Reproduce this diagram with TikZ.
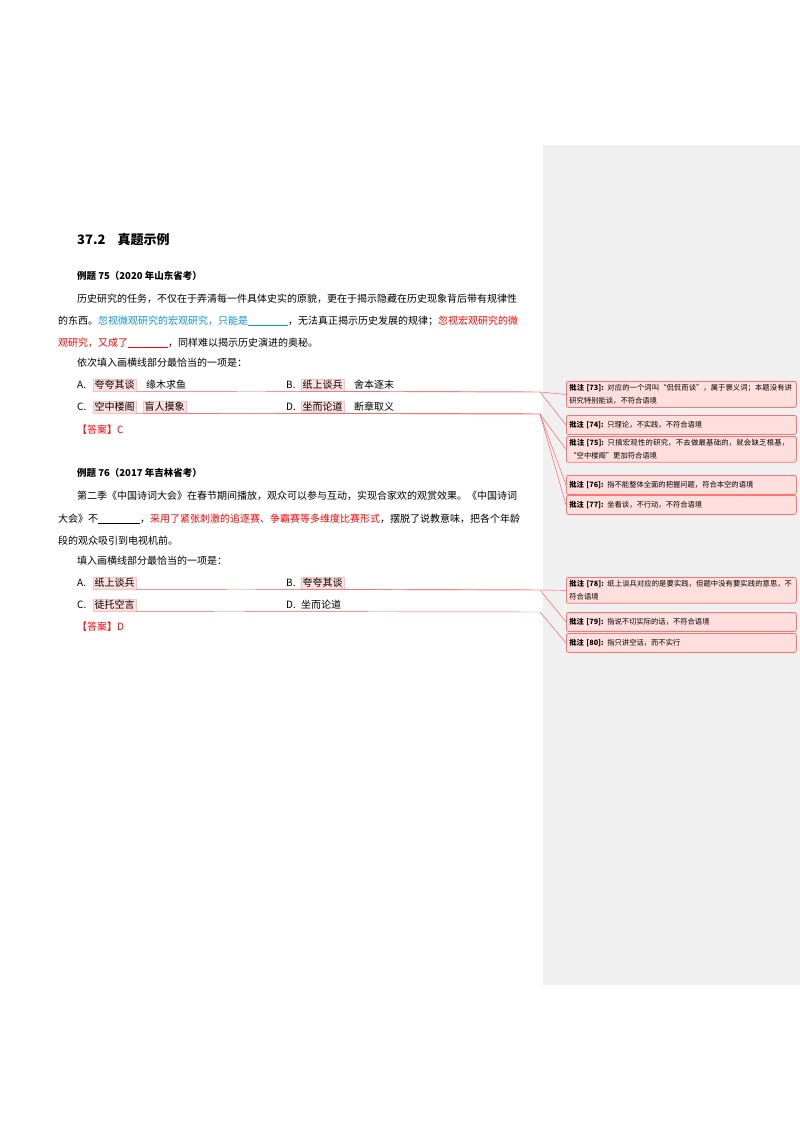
\documentclass[tikz,border=0pt]{standalone}
\usepackage{fontspec}
\setmainfont{Noto Sans CJK SC}
\XeTeXlinebreaklocale "zh"
\XeTeXlinebreakskip=0pt plus 1pt
\begin{document}
\begin{tikzpicture}[x=1pt,y=-1pt,
  txt/.style={anchor=west,inner sep=0pt,font=\fontsize{10}{12}\selectfont},
  hl/.style={anchor=west,inner sep=1.5pt,fill=red!12,draw=red!25,line width=0.4pt,font=\fontsize{10}{12}\selectfont},
  cbox/.style={anchor=north west,inner sep=3pt,rounded corners=2pt,fill=red!13,draw=red!55,line width=0.8pt,text width=224pt,align=left,font=\fontsize{7.3}{13}\selectfont,minimum height=19pt},
  ln/.style={draw=red!65,line width=0.45pt}]
\useasboundingbox (0,0) rectangle (800,1132);
\fill[white] (0,0) rectangle (800,1132);
\fill[black!6] (543,145) rectangle (800,985);
\newcommand{\blk}[1]{\underline{\hspace{#1}}}
\node[txt,font=\fontsize{13}{15}\selectfont\bfseries] (h) at (77,240) {37.2\hspace{12pt}真题示例};
\node[txt,font=\fontsize{9.5}{12}\selectfont\bfseries] (e75) at (77,276) {例题 75（2020 年山东省考）};
\node[txt] (p1) at (77,299) {历史研究的任务，不仅在于弄清每一件具体史实的原貌，更在于揭示隐藏在历史现象背后带有规律性};
\node[txt] (p2) at (58,321) {的东西。\textcolor{cyan!80!blue}{忽视微观研究的宏观研究，只能是\blk{40pt}}，无法真正揭示历史发展的规律；\textcolor{red}{忽视宏观研究的微}};
\node[txt] (p3) at (58,343) {\textcolor{red}{观研究，又成了\blk{40pt}}，同样难以揭示历史演进的奥秘。};
\node[txt] (q1) at (77,363) {依次填入画横线部分最恰当的一项是：};
\node[txt] (oa) at (77,385) {A.};
\node[hl] (w73) at (93,385) {夸夸其谈};
\node[txt] (oa2) at (146,385) {缘木求鱼};
\node[txt] (ob) at (286,385) {B.};
\node[hl] (w74) at (301,385) {纸上谈兵};
\node[txt] (ob2) at (354,385) {舍本逐末};
\node[txt] (oc) at (77,407) {C.};
\node[hl] (w75) at (93,407) {空中楼阁};
\node[hl] (w76) at (143,407) {盲人摸象};
\node[txt] (od) at (286,407) {D.};
\node[hl] (w77) at (301,407) {坐而论道};
\node[txt] (od2) at (354,407) {断章取义};
\node[txt,text=red] (a1) at (77,430) {【答案】C};
\node[txt,font=\fontsize{9.5}{12}\selectfont\bfseries] (e76) at (77,473) {例题 76（2017 年吉林省考）};
\node[txt] (r1) at (77,496) {第二季《中国诗词大会》在春节期间播放，观众可以参与互动，实现合家欢的观赏效果。《中国诗词};
\node[txt] (r2) at (58,519) {大会》不\blk{42pt}，\textcolor{red}{采用了紧张刺激的追逐赛、争霸赛等多维度比赛形式}，摆脱了说教意味，把各个年龄};
\node[txt] (r3) at (58,541) {段的观众吸引到电视机前。};
\node[txt] (q2) at (77,561) {填入画横线部分最恰当的一项是：};
\node[txt] (sa) at (77,583) {A.};
\node[hl] (w78) at (93,583) {纸上谈兵};
\node[txt] (sb) at (286,583) {B.};
\node[hl] (w79) at (301,583) {夸夸其谈};
\node[txt] (sc) at (77,605) {C.};
\node[hl] (w80) at (93,605) {徒托空言};
\node[txt] (sd) at (286,605) {D.};
\node[txt] (sd2) at (301,605) {坐而论道};
\node[txt,text=red] (a2) at (77,627) {【答案】D};
% comments
\node[cbox] (c73) at (566,381) {\textbf{批注 [73]:} 对应的一个词叫“侃侃而谈”，属于褒义词；本题没有讲研究特别能谈，不符合语境};
\node[cbox] (c74) at (566,415) {\textbf{批注 [74]:} 只理论，不实践，不符合语境};
\node[cbox] (c75) at (566,436) {\textbf{批注 [75]:} 只搞宏观性的研究，不去做最基础的，就会缺乏根基，“空中楼阁”更加符合语境};
\node[cbox] (c76) at (566,475) {\textbf{批注 [76]:} 指不能整体全面的把握问题，符合本空的语境};
\node[cbox] (c77) at (566,495) {\textbf{批注 [77]:} 坐看谈，不行动，不符合语境};
\node[cbox] (c78) at (566,577) {\textbf{批注 [78]:} 纸上谈兵对应的是要实践，但题中没有要实践的意思，不符合语境};
\node[cbox] (c79) at (566,612) {\textbf{批注 [79]:} 指说不切实际的话，不符合语境};
\node[cbox] (c80) at (566,633) {\textbf{批注 [80]:} 指只讲空话，而不实行};
% connectors
\coordinate (k1) at (540,392);
\coordinate (k2) at (540,414);
\coordinate (k3) at (540,590);
\coordinate (k4) at (540,612);
\draw[ln] (w73.south east) -- (k1) -- (c73.west);
\draw[ln] (w74.south east) -- (k1) -- (c74.west);
\draw[ln] (w75.south east) -- (k2) -- (c75.west);
\draw[ln] (w76.south east) -- (k2) -- (c76.west);
\draw[ln] (w77.south east) -- (k2) -- (c77.west);
\draw[ln] (w78.south east) -- (k3) -- (c78.west);
\draw[ln] (w79.south east) -- (k3) -- (c79.west);
\draw[ln] (w80.south east) -- (k4) -- (c80.west);
\end{tikzpicture}
\end{document}
